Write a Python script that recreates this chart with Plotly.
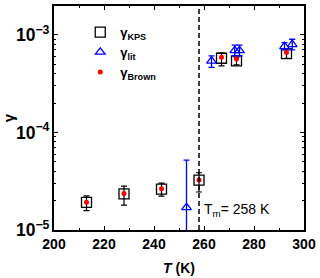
import plotly.graph_objects as go

# KPS
T_kps = [213, 228, 243, 258, 267, 273, 293]
g_kps = [1.92e-5, 2.34e-5, 2.62e-5, 3.24e-5, 5.75e-4, 5.4e-4, 6.41e-4]
g_kps_up = [0.32e-5, 0.48e-5, 0.4e-5, 0.62e-5, 0.77e-4, 0.5e-4, 0.6e-4]
g_kps_dn = [0.34e-5, 0.54e-5, 0.4e-5, 0.79e-5, 0.94e-4, 0.48e-4, 0.66e-4]

# literature
T_lit = [253, 263, 272.3, 274.2, 292.2, 295.3]
g_lit = [1.7e-5, 5.4e-4, 6.9e-4, 6.9e-4, 7.6e-4, 7.97e-4]
g_lit_up = [3.5e-5, 0.67e-4, 0.95e-4, 0.95e-4, 0.7e-4, 1.03e-4]
g_lit_dn = [1.69e-5, 0.77e-4, 0.8e-4, 0.8e-4, 0.6e-4, 0.97e-4]

# Brown
T_br = [213, 228, 243, 258, 267, 273, 293]
g_br = [1.92e-5, 2.36e-5, 2.65e-5, 3.25e-5, 5.9e-4, 5.65e-4, 6.6e-4]

Tm = 258

FONT = "Arial, Liberation Sans, sans-serif"

fig = go.Figure()
fig.add_trace(go.Scatter(
    x=T_kps, y=g_kps, mode="markers", name="γ<sub>KPS</sub>",
    marker=dict(symbol="square-open", size=10, color="black", line=dict(width=1.3)),
    error_y=dict(type="data", array=g_kps_up, arrayminus=g_kps_dn, color="black",
                 thickness=1.2, width=3),
))
fig.add_trace(go.Scatter(
    x=T_lit, y=g_lit, mode="markers", name="γ<sub>lit</sub>",
    marker=dict(symbol="triangle-up-open", size=8.5, color="blue", line=dict(width=1.3)),
    error_y=dict(type="data", array=g_lit_up, arrayminus=g_lit_dn, color="blue",
                 thickness=1.3, width=3),
))
fig.add_trace(go.Scatter(
    x=T_br, y=g_br, mode="markers", name="γ<sub>Brown</sub>",
    marker=dict(symbol="circle", size=5, color="red"),
))

fig.add_vline(x=Tm, line=dict(color="black", width=1.5, dash="5px,3px"))
fig.add_annotation(x=259.3, y=-4.8, xref="x", yref="y", text="T<sub>m</sub>= 258 K",
                   showarrow=False, xanchor="left", yanchor="middle",
                   font=dict(family=FONT, size=14, color="black"))

axis_common = dict(
    showline=True, linecolor="black", linewidth=1.5, mirror="ticks",
    ticks="inside", ticklen=4, tickwidth=1.3, tickcolor="black",
    showgrid=False, zeroline=False,
    tickfont=dict(family=FONT, size=14, color="black", weight="bold"),
)

fig.update_xaxes(range=[200, 300], dtick=20,
                 minor=dict(ticks="inside", ticklen=2.5, dtick=10, tickcolor="black", tickwidth=1.2),
                 title=dict(text="<i>T</i> (K)", font=dict(family=FONT, size=14, color="black", weight="bold"),
                            standoff=13),
                 **axis_common)
fig.update_yaxes(type="log", range=[-5, -2.705], dtick=1, exponentformat="power",
                 minor=dict(ticks="inside", ticklen=2.5, tickcolor="black", tickwidth=1.2, dtick="D1"),
                 title=dict(text="γ", font=dict(family=FONT, size=15, color="black", weight="bold"),
                            standoff=2),
                 **axis_common)

fig.update_layout(
    width=320, height=278,
    margin=dict(l=50, r=15, t=4, b=48),
    paper_bgcolor="white", plot_bgcolor="white",
    legend=dict(x=0.105, y=0.95, xanchor="left", yanchor="top", bgcolor="rgba(0,0,0,0)",
                font=dict(family=FONT, size=13, color="black", weight="bold"),
                itemwidth=30, tracegroupgap=0),
    showlegend=True,
)

fig.write_html("out.html", config={"displayModeBar": False},
               post_script="document.body.style.margin='0';document.body.style.overflow='hidden';")
